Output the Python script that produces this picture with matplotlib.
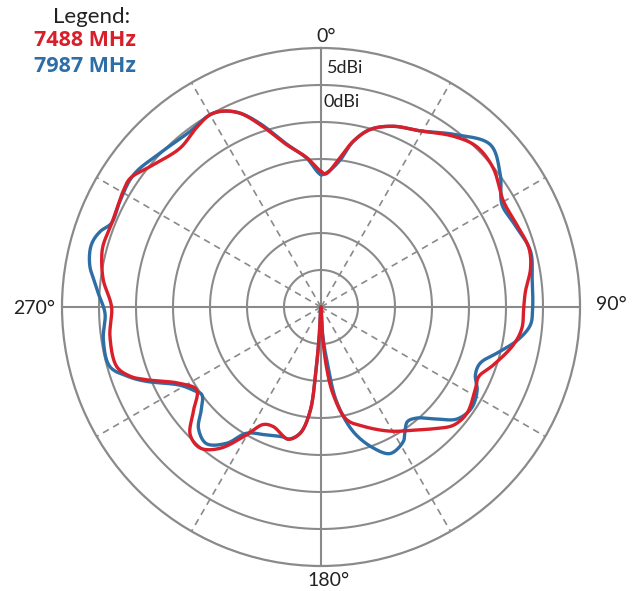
import numpy as np
import matplotlib
matplotlib.use("Agg")
import matplotlib.pyplot as plt
from matplotlib import font_manager

# ---- data (angle in degrees clockwise from 0°, gain in dBi) ----
red_angles = [0, 2, 7, 11, 15.5, 21.8, 29.3, 37.8, 44.1, 51.1, 59.9, 67.2, 74.2, 79.5,
              85.7, 90, 96, 101.1, 108.5, 113.8, 117.8, 126.1, 131.7, 136.3, 141.1,
              150.9, 160.5, 167.2, 172, 174.7, 177, 180, 183.5, 184.5, 186, 189.4,
              193.9, 201.8, 206.2, 210.2, 215.6, 220.6, 225.7, 230.7, 236.3, 241.6,
              247.3, 250, 253.7, 262, 270, 277.1, 282.9, 285.9, 291.8, 300.6, 304,
              309.4, 318.4, 325.2, 330, 333.4, 337.3, 341.5, 348.1, 354.5, 360]
red_gain = [-11.7, -12.0, -9.8, -7.2, -5.1, -3.7, -2.7, -0.8, 0.2, -0.1, -1.5, -1.3, -0.8, -1.2,
            -2.3, -2.6, -2.7, -3.5, -5.4, -6.7, -6.4, -5.6, -6.0, -7.3, -8.7,
            -10.8, -12.9, -14.4, -18.0, -21.7, -26.2, -30.0, -26.2, -21.7, -15.8, -12.7,
            -11.6, -12.6, -12.3, -10.0, -6.5, -4.9, -5.3, -7.7, -9.8, -8.3,
            -4.5, -2.6, -1.25, -1.2, -1.7, -0.35, 0.4, 0.6, 0.46, 1.0, 1.1,
            -0.1, -1.3, -0.5, 0.0, -0.4, -1.6, -4.0, -7.6, -9.7, -11.7]

blue_angles = [0, 3, 7.4, 11, 15.5, 21.8, 29.3, 37.8, 46.2, 53.6, 60.5, 66.5, 75.1, 82.2,
               90.3, 94.9, 99.4, 104, 109.5, 113.8, 118, 123.9, 129.5, 134, 139.3, 143,
               146, 148.5, 154.7, 159.7, 165.5, 170.6, 173.2, 176.5, 180, 183.5, 184.5,
               186, 189.4, 193.9, 196.2, 203, 210.5, 214.7, 220, 225.3, 229.2, 233.6,
               236.5, 241, 247, 250, 254.2, 261.4, 268.3, 273.5, 276.8, 279.9,
               283.9, 286.4, 289, 291.8, 297.7, 305.2, 313.7, 323.3, 330, 333.4, 337.3,
               341.5, 348.1, 354.5, 360]
blue_gain = [-12.1, -11.7, -10.0, -7.2, -5.1, -3.7, -2.7, -0.5, 1.7, 0.1, -1.9, -1.6, -0.7, -1.2,
             -1.4, -1.6, -3.0, -5.1, -7.2, -7.2, -6.1, -5.5, -6.2, -8.2, -10.2, -10.6,
             -9.7, -8.7, -8.1, -9.7, -12.6, -17.0, -21.7, -26.2, -30.0, -26.2, -21.7,
             -15.8, -12.7, -11.6, -11.7, -11.2, -10.2, -7.6, -5.9, -6.7, -8.6, -10.0,
             -9.5, -8.2, -4.3, -2.4, -0.36, -0.25, -0.8, 0.15, 0.9, 1.7,
             2.15, 2.05, 1.5, 0.5, 0.7, 1.0, 0.1, -0.4, 0.0, -0.4, -1.6,
             -3.8, -7.5, -9.8, -12.1]

series_labels = ["7488 MHz", "7987 MHz"]
angle_labels = ["0°", "90°", "180°", "270°"]
ring_labels = ["5dBi", "0dBi"]

RED = "#d81f2a"
BLUE = "#2e6ea6"
GRID = "#8a8a8a"
RMIN, RMAX = -30, 5


def smooth_closed(ang_deg, gain, n=24):
    """Centripetal Catmull-Rom rendering of a closed polar trace (display smoothing only)."""
    a = np.deg2rad(np.asarray(ang_deg[:-1], float))
    r = np.asarray(gain[:-1], float) - RMIN
    P = np.c_[r * np.sin(a), r * np.cos(a)]
    N = len(P)
    pts = []
    for i in range(N):
        p0, p1, p2, p3 = P[(i - 1) % N], P[i], P[(i + 1) % N], P[(i + 2) % N]
        t0 = 0.0
        t1 = t0 + max(np.linalg.norm(p1 - p0), 1e-6) ** 0.5
        t2 = t1 + max(np.linalg.norm(p2 - p1), 1e-6) ** 0.5
        t3 = t2 + max(np.linalg.norm(p3 - p2), 1e-6) ** 0.5
        for t in np.linspace(t1, t2, n, endpoint=False):
            A1 = (t1 - t) / (t1 - t0) * p0 + (t - t0) / (t1 - t0) * p1
            A2 = (t2 - t) / (t2 - t1) * p1 + (t - t1) / (t2 - t1) * p2
            A3 = (t3 - t) / (t3 - t2) * p2 + (t - t2) / (t3 - t2) * p3
            B1 = (t2 - t) / (t2 - t0) * A1 + (t - t0) / (t2 - t0) * A2
            B2 = (t3 - t) / (t3 - t1) * A2 + (t - t1) / (t3 - t1) * A3
            C = (t2 - t) / (t2 - t1) * B1 + (t - t1) / (t2 - t1) * B2
            pts.append(C)
    pts.append(pts[0])
    pts = np.array(pts)
    th = np.unwrap(np.arctan2(pts[:, 0], pts[:, 1]))
    rr = np.hypot(pts[:, 0], pts[:, 1]) + RMIN
    return th, np.clip(rr, RMIN, RMAX)


W, H = 640, 591
fig = plt.figure(figsize=(W / 100, H / 100), dpi=100)
cx, cy, R = 321, 307, 259
ax = fig.add_axes([(cx - R) / W, (H - cy - R) / H, 2 * R / W, 2 * R / H], projection="polar")
ax.set_theta_zero_location("N")
ax.set_theta_direction(-1)
ax.set_ylim(RMIN, RMAX)
ax.set_yticks([-25, -20, -15, -10, -5, 0])
ax.set_yticklabels([])
ax.set_xticks([])
ax.grid(False)
th_c = np.linspace(0, 2 * np.pi, 400)
for r in [-25, -20, -15, -10, -5, 0]:
    ax.plot(th_c, np.full_like(th_c, r), color=GRID, lw=1.5, zorder=1)
ax.spines["polar"].set_color(GRID)
ax.spines["polar"].set_linewidth(1.6)

# spokes
for a in range(0, 360, 30):
    t = np.deg2rad(a)
    if a % 90 == 0:
        ax.plot([t, t], [RMIN, RMAX], color=GRID, lw=1.5, zorder=1)
    else:
        ax.plot([t, t], [RMIN, RMAX], color=GRID, lw=1.2, ls=(0, (4, 3)), zorder=1)

bt, br = smooth_closed(blue_angles, blue_gain)
rt, rr = smooth_closed(red_angles, red_gain)
ax.plot(bt, br, color=BLUE, lw=2.4, zorder=3, solid_joinstyle="round")
ax.plot(rt, rr, color=RED, lw=2.4, zorder=4, solid_joinstyle="round")

FONT = ["Lato", "DejaVu Sans"]

# pick a family that really has a bold face for the legend entries
BOLD_FONT = ["DejaVu Sans"]
for fam in ["Open Sans", "Noto Sans", "Roboto", "Liberation Sans"]:
    try:
        path = font_manager.findfont(font_manager.FontProperties(family=fam, weight="bold"),
                                     fallback_to_default=False)
        if "bold" in path.lower():
            BOLD_FONT = [fam, "DejaVu Sans"]
            break
    except Exception:
        pass


def ftext(x, y, s, family=None, **kw):
    fig.text(x / W, 1 - y / H, s, family=family or FONT, **kw)


TXT = "#222222"
ftext(326, 37, angle_labels[0], fontsize=14, ha="center", va="center", color=TXT)
ftext(611, 305, angle_labels[1], fontsize=14, ha="center", va="center", color=TXT)
ftext(329, 581, angle_labels[2], fontsize=14, ha="center", va="center", color=TXT)
ftext(34, 308, angle_labels[3], fontsize=14, ha="center", va="center", color=TXT)
ftext(327, 68, ring_labels[0], fontsize=13, ha="left", va="center", color=TXT)
ftext(324, 102, ring_labels[1], fontsize=13, ha="left", va="center", color=TXT)

ftext(92, 17, "Legend:", fontsize=16, ha="center", va="center", color=TXT)
ftext(85, 40, series_labels[0], family=BOLD_FONT, fontsize=15.5, ha="center", va="center",
      color=RED, weight="bold")
ftext(85, 66, series_labels[1], family=BOLD_FONT, fontsize=15.5, ha="center", va="center",
      color=BLUE, weight="bold")

fig.savefig("out.png", dpi=100)
